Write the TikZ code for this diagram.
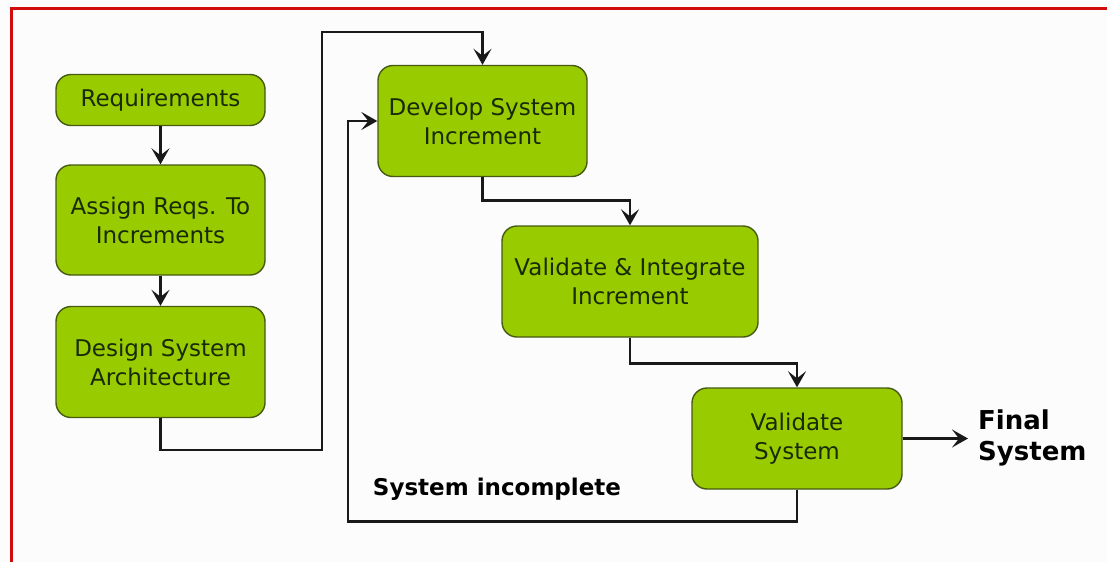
\documentclass[tikz,border=0pt]{standalone}
\usepackage{fontspec}
\setmainfont{DejaVu Sans}
\usetikzlibrary{arrows.meta,calc}
\definecolor{boxfill}{RGB}{153,204,0}
\definecolor{boxedge}{RGB}{70,90,18}
\definecolor{boxtext}{RGB}{24,42,6}
\definecolor{frame}{RGB}{210,12,12}
\definecolor{wire}{RGB}{25,25,25}
\definecolor{paper}{RGB}{252,252,252}
\tikzset{
  stage/.style={draw=boxedge, line width=1.4pt, fill=boxfill, rounded corners=15pt,
    text=boxtext, align=center, inner sep=0pt,
    font=\fontsize{23}{29}\selectfont},
  flow/.style={draw=wire, line width=2.6pt,
    -{Stealth[length=16pt,width=18pt,inset=7pt]}},
  bold label/.style={font=\bfseries, text=black, inner sep=0pt}
}
\begin{document}
\begin{tikzpicture}[x=1pt,y=-1pt]
  \useasboundingbox (0,0) rectangle (1107,562);
  \fill[paper] (0,0) rectangle (1107,562);
  % frame lines along the top and left edges
  \draw[frame, line width=3pt] (11,562) -- (11,8.5) -- (1107,8.5);

  % process stages
  \node[stage, minimum width=209pt, minimum height=51pt]  (req)     at (160.5,100)   {Requirements};
  \node[stage, minimum width=209pt, minimum height=110pt] (assign)  at (160.5,220)   {Assign Reqs. To\\Increments};
  \node[stage, minimum width=209pt, minimum height=111pt] (design)  at (160.5,362)   {Design System\\Architecture};
  \node[stage, minimum width=209pt, minimum height=111pt] (develop) at (482.5,121)   {Develop System\\Increment};
  \node[stage, minimum width=256pt, minimum height=111pt] (vint)    at (630,281.5)   {Validate \& Integrate\\Increment};
  \node[stage, minimum width=210pt, minimum height=101pt] (vsys)    at (797,438.5)   {Validate\\System};

  % free-standing labels
  \node[bold label, anchor=west, align=left, font=\bfseries\fontsize{26}{31}\selectfont] (final) at (978,438) {Final\\System};
  \node[bold label, font=\bfseries\fontsize{23}{27}\selectfont] (incomplete) at (497,489) {System incomplete};

  % routing points
  \coordinate (up)   at (322,450);
  \coordinate (top)  at (322,32);
  \coordinate (back) at (348,300);

  % connectors
  \draw[flow] (req) -- (assign);
  \draw[flow] (assign) -- (design);
  \draw[flow] (design.south) |- (up) -- (top) -| (develop.north);
  \draw[flow] (develop.south) -- ++(0,23) -| (vint.north);
  \draw[flow] (vint.south) -- ++(0,26) -| (vsys.north);
  \draw[flow] (vsys.south) -- ++(0,32) -| (back) |- (develop.west);
  \draw[flow, shorten >=10pt] (vsys.east) -- (vsys.east -| final.west);
\end{tikzpicture}
\end{document}
